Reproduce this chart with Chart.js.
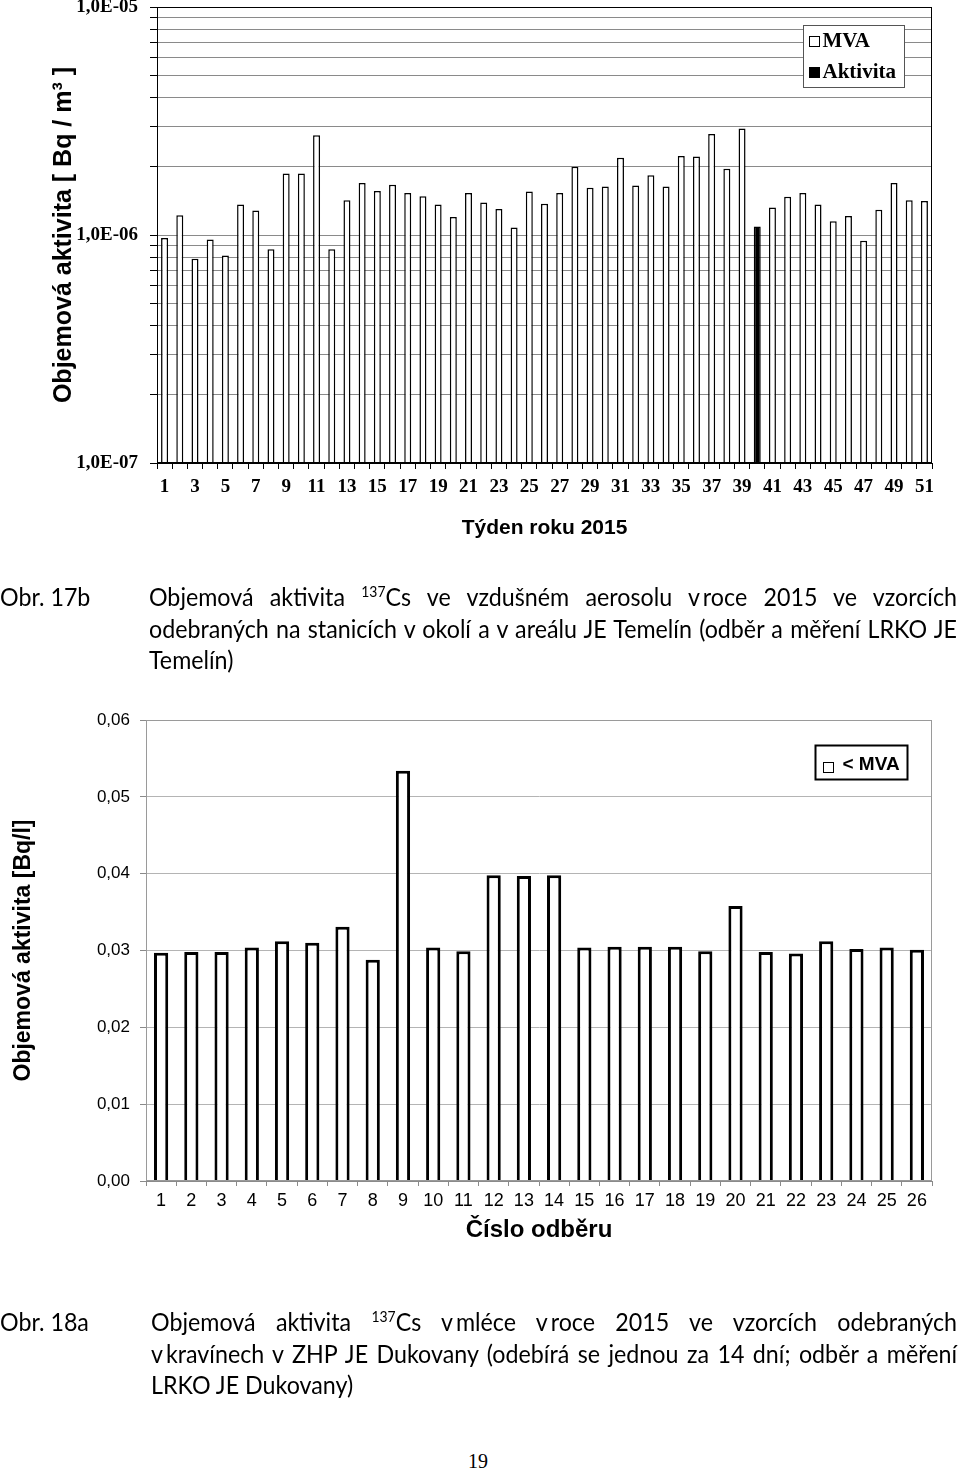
<!DOCTYPE html>
<html>
<head>
<meta charset="utf-8">
<script src="https://cdn.jsdelivr.net/npm/chart.js@4.4.0/dist/chart.umd.min.js"></script>
<style>
  body { margin: 0; background: #fff; width: 960px; height: 1470px; position: relative; overflow: hidden; }
  .box { position: absolute; left: 0; width: 960px; }
  /* Calibri look-alike: Lato squeezed a little */
  .cap { position: absolute; left: 0; width: 1033px; font-family: Lato, "Open Sans", sans-serif;
         font-size: 25px; line-height: 31.5px; color: #000; transform: scaleX(0.93); transform-origin: 0 0; }
  .cap .num { position: absolute; left: 0; top: 0; }
  .cap .txt { position: absolute; top: 0; }
  .j { text-align: justify; text-align-last: justify; }
  sup { font-size: 0.6em; vertical-align: 0.6em; line-height: 0; }
  .page { position: absolute; top: 1450px; left: 0; width: 956px; text-align: center;
          font-family: "Liberation Serif", serif; font-size: 20px; }
</style>
</head>
<body>

<div class="box" style="top:0; height:550px;"><canvas id="my-air"></canvas></div>

<div class="cap" style="top:581px;">
  <div class="num">Obr. 17b</div>
  <div class="txt" style="left:160.2px; width:868.8px;">
    <div class="j">Objemová aktivita <sup>137</sup>Cs ve vzdušném aerosolu v&thinsp;roce 2015 ve vzorcích</div>
    <div class="j">odebraných na stanicích v okolí a v areálu JE Temelín (odběr a měření LRKO JE</div>
    <div>Temelín)</div>
  </div>
</div>

<div class="box" style="top:700px; height:545px;"><canvas id="my-milk"></canvas></div>

<div class="cap" style="top:1306px;">
  <div class="num">Obr. 18a</div>
  <div class="txt" style="left:162.4px; width:866.7px;">
    <div class="j">Objemová aktivita <sup>137</sup>Cs v&thinsp;mléce v&thinsp;roce 2015 ve vzorcích odebraných</div>
    <div class="j">v&thinsp;kravínech v ZHP JE Dukovany (odebírá se jednou za 14 dní; odběr a měření</div>
    <div>LRKO JE Dukovany)</div>
  </div>
</div>

<div class="page">19</div>

<script>
/*
    Data
*/

// Obr. 17b - aerosol, tydny 1-51 [Bq/m3]
const week_labels = ['1','2','3','4','5','6','7','8','9','10','11','12','13','14','15','16','17',
    '18','19','20','21','22','23','24','25','26','27','28','29','30','31','32','33','34',
    '35','36','37','38','39','40','41','42','43','44','45','46','47','48','49','50','51'];

const mva_data = [
    0.97e-6, 1.22e-6, 0.786e-6, 0.955e-6, 0.813e-6, 1.36e-6, 1.28e-6, 0.866e-6, 1.86e-6, 1.86e-6,
    2.74e-6, 0.866e-6, 1.42e-6, 1.69e-6, 1.56e-6, 1.66e-6, 1.53e-6, 1.48e-6, 1.36e-6, 1.20e-6,
    1.53e-6, 1.39e-6, 1.30e-6, 1.08e-6, 1.55e-6, 1.37e-6, 1.53e-6, 1.99e-6, 1.61e-6, 1.63e-6,
    2.18e-6, 1.65e-6, 1.83e-6, 1.63e-6, 2.22e-6, 2.21e-6, 2.77e-6, 1.95e-6, 2.93e-6, null,
    1.32e-6, 1.47e-6, 1.53e-6, 1.36e-6, 1.15e-6, 1.21e-6, 0.943e-6, 1.29e-6, 1.69e-6, 1.42e-6, 1.41e-6
];

const aktivita_data = [
    null, null, null, null, null, null, null, null, null, null,
    null, null, null, null, null, null, null, null, null, null,
    null, null, null, null, null, null, null, null, null, null,
    null, null, null, null, null, null, null, null, null, 1.09e-6,
    null, null, null, null, null, null, null, null, null, null, null
];

// grid lines of the log axis
const log_ticks = [
    1e-7, 2e-7, 3e-7, 4e-7, 5e-7, 6e-7, 7e-7, 8e-7, 9e-7,
    1e-6, 2e-6, 3e-6, 4e-6, 5e-6, 6e-6, 7e-6, 8e-6, 9e-6,
    1e-5
];

// Obr. 18a - mleko, cislo odberu 1-26 [Bq/l]
const sample_labels = ['1','2','3','4','5','6','7','8','9','10','11','12','13',
    '14','15','16','17','18','19','20','21','22','23','24','25','26'];

const milk_mva_data = [
    0.0297, 0.0298, 0.0298, 0.0304, 0.0312, 0.0310, 0.0331, 0.0288, 0.0534, 0.0304,
    0.0299, 0.0398, 0.0397, 0.0398, 0.0304, 0.0305, 0.0305, 0.0305, 0.0299, 0.0358,
    0.0298, 0.0296, 0.0312, 0.0302, 0.0304, 0.0301
];

/*
    Plugins: frame round the plot area, boxed legend inside it
*/

const chartFrame = {
    id: 'chartFrame',
    afterDatasetsDraw(chart, args, opts) {
        const a = chart.chartArea, ctx = chart.ctx;
        ctx.save();
        ctx.strokeStyle = opts.color;
        ctx.lineWidth = 1;
        ctx.strokeRect(Math.round(a.left) + 0.5, Math.round(a.top) + 0.5,
            Math.round(a.right - a.left) - 1, Math.round(a.bottom - a.top) - 1);
        ctx.restore();
    }
};

const boxLegend = {
    id: 'boxLegend',
    afterDraw(chart, args, o) {
        const ctx = chart.ctx, a = chart.chartArea;
        const x = Math.round(a.right - o.right - o.width) + 0.5;
        const y = Math.round(a.top + o.top) + 0.5;
        ctx.save();
        ctx.fillStyle = '#fff';
        ctx.fillRect(x, y, o.width, o.height);
        ctx.strokeStyle = o.borderColor;
        ctx.lineWidth = o.borderWidth;
        ctx.strokeRect(x, y, o.width, o.height);
        ctx.font = o.font;
        ctx.textBaseline = 'middle';
        chart.data.datasets.forEach((ds, i) => {
            const cy = y + o.rowTop + i * o.rowGap;
            const sx = x + o.padX, sy = cy - o.sq / 2 + o.sqDy;
            ctx.fillStyle = ds.backgroundColor;
            ctx.fillRect(sx, sy, o.sq, o.sq);
            ctx.strokeStyle = '#000';
            ctx.lineWidth = 1;
            ctx.strokeRect(sx, sy, o.sq, o.sq);
            ctx.fillStyle = '#000';
            ctx.fillText(ds.label, sx + o.textGap, cy);
        });
        ctx.restore();
    }
};

Chart.defaults.color = '#000';

/*
    Obr. 17b chart (log scale)
*/

const ctx_air = document.getElementById('my-air').getContext('2d');
const airChart = new Chart(ctx_air, {
    type: 'bar',
    data: {
        labels: week_labels,
        datasets: [{
            label: 'MVA',
            data: mva_data,
            backgroundColor: '#ffffff',
            borderColor: '#000000',
            borderWidth: 1.5,
            barPercentage: 0.46,
            categoryPercentage: 1,
            grouped: false
        }, {
            label: 'Aktivita',
            data: aktivita_data,
            backgroundColor: '#000000',
            borderColor: '#000000',
            borderWidth: 1.5,
            barPercentage: 0.46,
            categoryPercentage: 1,
            grouped: false
        }]
    },
    plugins: [chartFrame, boxLegend],
    options: {
        animation: false,
        responsive: true,
        maintainAspectRatio: false,
        layout: { padding: { left: 49, right: 28, top: 7, bottom: 0 } },
        plugins: {
            legend: { display: false },
            tooltip: { enabled: false },
            chartFrame: { color: '#000' },
            boxLegend: {
                right: 28, top: 18, width: 101, height: 62,
                rowTop: 16, rowGap: 31, padX: 6, sq: 10, sqDy: 0, textGap: 13,
                font: 'bold 21px "Liberation Serif"', borderColor: '#555', borderWidth: 1
            }
        },
        scales: {
            x: {
                afterFit: s => { s.height = 87; s.paddingLeft = 0; s.paddingRight = 0; },
                grid: { drawOnChartArea: false, drawTicks: true, tickLength: 6, color: '#000' },
                border: { display: true, color: '#000' },
                ticks: {
                    autoSkip: false,
                    maxRotation: 0,
                    padding: 7,
                    font: { family: 'Liberation Serif', size: 19, weight: 'bold' },
                    callback: function(value) {
                        // only odd weeks are labelled
                        const l = this.getLabelForValue(value);
                        return Number(l) % 2 === 1 ? l : '';
                    }
                },
                title: {
                    display: true,
                    text: 'Týden roku 2015',
                    font: { family: 'Liberation Sans', size: 21, weight: 'bold' },
                    padding: { top: 0, bottom: 9 }
                }
            },
            y: {
                type: 'logarithmic',
                min: 1e-7,
                max: 1e-5,
                afterBuildTicks: s => { s.ticks = log_ticks.map(v => ({ value: v })); },
                afterFit: s => { s.width = 108; s.paddingTop = 0; s.paddingBottom = 0; },
                grid: { color: '#8a8a8a', tickColor: '#000', tickLength: 7 },
                border: { display: true, color: '#000' },
                ticks: {
                    autoSkip: false,
                    padding: 12,
                    font: { family: 'Liberation Serif', size: 19, weight: 'bold' },
                    callback: function(value) {
                        const e = Math.round(Math.log10(value));
                        if (Math.abs(Math.log10(value) - e) > 1e-6) return '';
                        return '1,0E-' + String(-e).padStart(2, '0');
                    }
                },
                title: {
                    display: true,
                    text: 'Objemová aktivita [ Bq / m³ ]',
                    font: { family: 'Liberation Sans', size: 25, weight: 'bold' },
                    padding: { top: 0, bottom: 0 }
                }
            }
        }
    }
});

/*
    Obr. 18a chart
*/

const ctx_milk = document.getElementById('my-milk').getContext('2d');
const milkChart = new Chart(ctx_milk, {
    type: 'bar',
    data: {
        labels: sample_labels,
        datasets: [{
            label: '< MVA',
            data: milk_mva_data,
            backgroundColor: '#ffffff',
            borderColor: '#000000',
            borderWidth: 3,
            barPercentage: 0.47,
            categoryPercentage: 1
        }]
    },
    plugins: [chartFrame, boxLegend],
    options: {
        animation: false,
        responsive: true,
        maintainAspectRatio: false,
        layout: { padding: { left: 10, right: 28, top: 20, bottom: 0 } },
        plugins: {
            legend: { display: false },
            tooltip: { enabled: false },
            chartFrame: { color: '#9a9a9a' },
            boxLegend: {
                right: 25, top: 25, width: 92, height: 34,
                rowTop: 19, rowGap: 0, padX: 8, sq: 10, sqDy: 3, textGap: 19,
                font: 'bold 19px "Liberation Sans"', borderColor: '#000', borderWidth: 2
            }
        },
        scales: {
            x: {
                afterFit: s => { s.height = 64; s.paddingLeft = 0; s.paddingRight = 0; },
                grid: { drawOnChartArea: false, drawTicks: true, tickLength: 5, color: '#8a8a8a' },
                border: { display: true, color: '#8a8a8a' },
                ticks: {
                    autoSkip: false,
                    maxRotation: 0,
                    padding: 4,
                    font: { family: 'Liberation Sans', size: 18 }
                },
                title: {
                    display: true,
                    text: 'Číslo odběru',
                    font: { family: 'Liberation Sans', size: 24, weight: 'bold' },
                    padding: { top: 0, bottom: 0 }
                }
            },
            y: {
                min: 0,
                max: 0.06,
                afterFit: s => { s.width = 136; s.paddingTop = 0; s.paddingBottom = 0; },
                grid: { color: '#b4b4b4', tickColor: '#8a8a8a', tickLength: 6 },
                border: { display: true, color: '#8a8a8a' },
                ticks: {
                    stepSize: 0.01,
                    padding: 10,
                    font: { family: 'Liberation Sans', size: 17 },
                    callback: value => value.toFixed(2).replace('.', ',')
                },
                title: {
                    display: true,
                    text: 'Objemová aktivita [Bq/l]',
                    font: { family: 'Liberation Sans', size: 23, weight: 'bold' },
                    padding: { top: 0, bottom: 0 }
                }
            }
        }
    }
});
</script>
</body>
</html>
